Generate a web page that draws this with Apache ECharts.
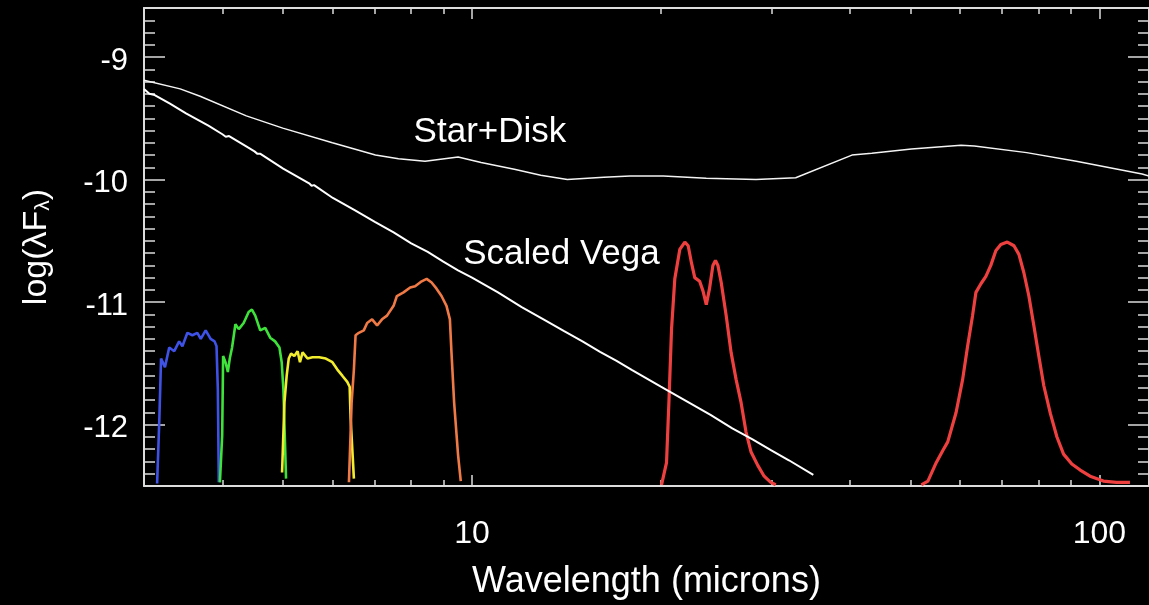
<!DOCTYPE html>
<html>
<head>
<meta charset="utf-8">
<script src="https://cdn.jsdelivr.net/npm/echarts@6/dist/echarts.min.js"></script>
<style>
  html, body { margin: 0; padding: 0; background: #000; }
  #chart { width: 1149px; height: 605px; }
</style>
</head>
<body>
<div id="chart"></div>
<script>
// Wavelengths in microns, fluxes as log(lambda F_lambda)
const starDiskLam  = [3.0, 3.426, 3.686, 4.368, 4.993, 5.99, 7.015, 7.636, 8.417, 9.502, 10.34, 11.68, 12.87, 14.19, 16.22, 17.87, 20.18, 23.63, 28.36, 32.81, 40.33, 43.38, 50.17, 60.2, 63.2, 76.6, 91.9, 117, 120];
const starDiskFlux = [-9.19, -9.26, -9.32, -9.48, -9.58, -9.70, -9.80, -9.83, -9.85, -9.815, -9.86, -9.915, -9.965, -10.00, -9.98, -9.97, -9.97, -9.99, -10.00, -9.985, -9.80, -9.785, -9.75, -9.72, -9.725, -9.78, -9.85, -9.955, -9.97];

const vegaLam  = [3.0, 3.06, 3.12, 3.3, 3.5, 3.8, 4.0, 4.05, 4.1, 4.4, 4.5, 4.55, 4.6, 5.0, 5.5, 5.55, 5.6, 6.0, 6.5, 7.0, 7.5, 8.0, 8.5, 9.0, 9.5, 10, 11, 12, 13, 14, 15, 16, 17, 18, 20, 22, 24, 26, 28, 30, 32, 35];
const vegaFlux = [-9.26, -9.30, -9.31, -9.38, -9.46, -9.56, -9.63, -9.65, -9.645, -9.74, -9.77, -9.79, -9.79, -9.91, -10.03, -10.05, -10.045, -10.15, -10.25, -10.345, -10.43, -10.52, -10.59, -10.67, -10.74, -10.80, -10.92, -11.04, -11.14, -11.235, -11.32, -11.405, -11.48, -11.555, -11.69, -11.81, -11.92, -12.03, -12.12, -12.21, -12.29, -12.41];

// IRAC 3.6 / 4.5 / 5.8 / 8.0 micron bands
const iracBlueLam  = [3.148, 3.174, 3.194, 3.240, 3.291, 3.352, 3.413, 3.454, 3.518, 3.583, 3.649, 3.695, 3.762, 3.831, 3.887, 3.915, 3.934, 3.948];
const iracBlueFlux = [-12.48, -11.95, -11.46, -11.53, -11.37, -11.40, -11.32, -11.36, -11.25, -11.27, -11.25, -11.30, -11.23, -11.30, -11.32, -11.36, -11.71, -12.47];

const iracGreenLam  = [3.964, 3.997, 4.011, 4.046, 4.081, 4.110, 4.145, 4.196, 4.248, 4.325, 4.405, 4.458, 4.513, 4.596, 4.681, 4.767, 4.854, 4.932, 4.973, 5.004, 5.053];
const iracGreenFlux = [-12.47, -12.09, -11.44, -11.49, -11.57, -11.46, -11.37, -11.18, -11.22, -11.17, -11.08, -11.06, -11.11, -11.23, -11.21, -11.29, -11.32, -11.37, -11.49, -11.71, -12.44];

const iracYellowLam  = [4.980, 5.023, 5.065, 5.103, 5.147, 5.209, 5.272, 5.318, 5.369, 5.468, 5.568, 5.706, 5.847, 5.990, 6.100, 6.212, 6.326, 6.382, 6.405, 6.482];
const iracYellowFlux = [-12.39, -11.82, -11.60, -11.46, -11.42, -11.44, -11.40, -11.49, -11.41, -11.46, -11.45, -11.45, -11.46, -11.49, -11.55, -11.60, -11.65, -11.69, -11.95, -12.44];

const iracOrangeLam  = [6.365, 6.428, 6.482, 6.522, 6.601, 6.722, 6.805, 6.930, 7.058, 7.187, 7.320, 7.499, 7.590, 7.778, 7.970, 8.116, 8.313, 8.466, 8.622, 8.779, 8.941, 9.106, 9.220, 9.274, 9.365, 9.502, 9.596];
const iracOrangeFlux = [-12.47, -11.82, -11.55, -11.27, -11.25, -11.23, -11.17, -11.14, -11.19, -11.14, -11.11, -11.03, -10.95, -10.92, -10.88, -10.87, -10.83, -10.81, -10.84, -10.89, -10.95, -11.03, -11.14, -11.41, -11.82, -12.25, -12.46];

// MIPS 24 and 70 micron bands
const mips24Lam  = [20.05, 20.42, 20.62, 20.80, 21.05, 21.44, 21.84, 22.11, 22.38, 22.65, 23.06, 23.35, 23.63, 23.91, 24.21, 24.44, 24.66, 24.96, 25.42, 25.88, 26.36, 26.85, 27.34, 27.84, 28.53, 29.22, 29.94, 30.49];
const mips24Flux = [-12.49, -12.31, -11.76, -11.22, -10.81, -10.57, -10.51, -10.54, -10.68, -10.80, -10.83, -10.91, -11.02, -10.89, -10.70, -10.66, -10.70, -10.84, -11.11, -11.41, -11.63, -11.82, -12.06, -12.22, -12.33, -12.42, -12.47, -12.49];

const mips70Lam  = [52.03, 53.30, 54.95, 56.30, 57.33, 59.11, 60.55, 61.66, 62.79, 63.58, 64.75, 65.94, 67.14, 68.39, 69.65, 71.34, 73.10, 74.44, 75.81, 77.21, 78.63, 80.08, 81.55, 83.56, 85.59, 87.70, 90.40, 93.22, 96.67, 101.5, 106.5, 111.9];
const mips70Flux = [-12.49, -12.46, -12.31, -12.21, -12.14, -11.90, -11.63, -11.36, -11.11, -10.92, -10.85, -10.79, -10.70, -10.58, -10.53, -10.51, -10.54, -10.61, -10.76, -10.95, -11.19, -11.44, -11.68, -11.91, -12.10, -12.24, -12.32, -12.37, -12.42, -12.46, -12.47, -12.47];

// Axis ticks and labels
const xMajorTicks = [10, 100];
const xMinorTicks = [4, 5, 6, 7, 8, 9, 20, 30, 40, 50, 60, 70, 80, 90];
const yMajorTicks = [-12, -11, -10, -9];
const yMinorTicks = [];
for (let i = -124; i <= -87; i++) {
  if (i % 10 !== 0) yMinorTicks.push(i / 10);
}

const X_MIN = 3, X_MAX = 120, Y_MIN = -12.5, Y_MAX = -8.6;
const FONT = '"Liberation Sans", Arial, Helvetica, sans-serif';
const AXIS_COLOR = '#dcdcdc';

function zip(xs, ys) { return xs.map((x, i) => [x, ys[i]]); }

function xAxisDef(position, ticks, len, showLine, showLabel) {
  return {
    type: 'log', logBase: 10, min: X_MIN, max: X_MAX, position: position,
    axisLine: { show: showLine, onZero: false, lineStyle: { color: AXIS_COLOR, width: 2 } },
    axisTick: { show: true, inside: true, length: len, customValues: ticks,
                lineStyle: { color: AXIS_COLOR, width: 1.5 } },
    axisLabel: { show: showLabel, customValues: ticks, color: '#fff', fontSize: 32,
                 fontFamily: FONT, margin: 32, formatter: v => String(Math.round(v)) },
    splitLine: { show: false }, minorTick: { show: false }
  };
}

function yAxisDef(position, ticks, len, showLine, showLabel) {
  return {
    type: 'value', min: Y_MIN, max: Y_MAX, position: position,
    axisLine: { show: showLine, onZero: false, lineStyle: { color: AXIS_COLOR, width: 2 } },
    axisTick: { show: true, inside: true, length: len, customValues: ticks,
                lineStyle: { color: AXIS_COLOR, width: 1.5 } },
    axisLabel: { show: showLabel, customValues: ticks, margin: 16,
                 formatter: v => '{t|' + Math.round(v) + '}',
                 rich: { t: { color: '#fff', fontSize: 31, fontFamily: FONT, padding: [8, 0, 0, 0] } } },
    splitLine: { show: false }
  };
}

const xBottom = xAxisDef('bottom', xMajorTicks, 11, true, true);
xBottom.name = 'Wavelength (microns)';
xBottom.nameLocation = 'middle';
xBottom.nameGap = 78;
xBottom.nameTextStyle = { color: '#fff', fontSize: 36, fontFamily: FONT };

const yLeft = yAxisDef('left', yMajorTicks, 21, true, true);
yLeft.name = 'log(λF{sub|λ})';
yLeft.nameLocation = 'middle';
yLeft.nameGap = 90;
yLeft.nameTextStyle = {
  color: '#fff', fontSize: 34, fontFamily: FONT,
  rich: { sub: { color: '#fff', fontSize: 21, fontFamily: FONT, verticalAlign: 'bottom' } }
};

function lineSeries(name, lam, flux, color, width) {
  return {
    name: name, type: 'line', xAxisIndex: 0, yAxisIndex: 0,
    data: zip(lam, flux), showSymbol: false, symbol: 'none', smooth: false,
    lineStyle: { color: color, width: width }, silent: true, clip: true
  };
}

const chart = echarts.init(document.getElementById('chart'), null, { renderer: 'canvas' });
chart.setOption({
  backgroundColor: '#000',
  animation: false,
  grid: { left: 144, top: 8, width: 1014, height: 481, containLabel: false },
  xAxis: [
    xBottom,
    xAxisDef('bottom', xMinorTicks, 6, false, false),
    xAxisDef('top', xMajorTicks, 11, true, false),
    xAxisDef('top', xMinorTicks, 6, false, false)
  ],
  yAxis: [
    yLeft,
    yAxisDef('left', yMinorTicks, 11, false, false),
    yAxisDef('right', yMajorTicks, 21, true, false),
    yAxisDef('right', yMinorTicks, 11, false, false)
  ],
  series: [
    lineSeries('IRAC 3.6', iracBlueLam, iracBlueFlux, '#3f52e8', 2.6),
    lineSeries('IRAC 4.5', iracGreenLam, iracGreenFlux, '#3ee23a', 2.6),
    lineSeries('IRAC 5.8', iracYellowLam, iracYellowFlux, '#f2ec2e', 2.6),
    lineSeries('IRAC 8.0', iracOrangeLam, iracOrangeFlux, '#f07a46', 2.6),
    lineSeries('MIPS 24', mips24Lam, mips24Flux, '#ef4040', 3.2),
    lineSeries('MIPS 70', mips70Lam, mips70Flux, '#ef4040', 3.2),
    lineSeries('Scaled Vega', vegaLam, vegaFlux, '#ffffff', 2),
    lineSeries('Star+Disk', starDiskLam, starDiskFlux, '#f4f4f4', 1.5)
  ]
});

// Curve captions anchored in data space
const captions = [
  { text: 'Star+Disk', at: [8.07, -9.614] },
  { text: 'Scaled Vega', at: [9.68, -10.608] }
];
chart.setOption({
  graphic: captions.map(c => {
    const p = chart.convertToPixel({ xAxisIndex: 0, yAxisIndex: 0 }, c.at);
    return {
      type: 'text', x: p[0], y: p[1], silent: true,
      style: { text: c.text, fill: '#fff', font: '35px ' + FONT, align: 'left', verticalAlign: 'middle' }
    };
  })
});
</script>
</body>
</html>
